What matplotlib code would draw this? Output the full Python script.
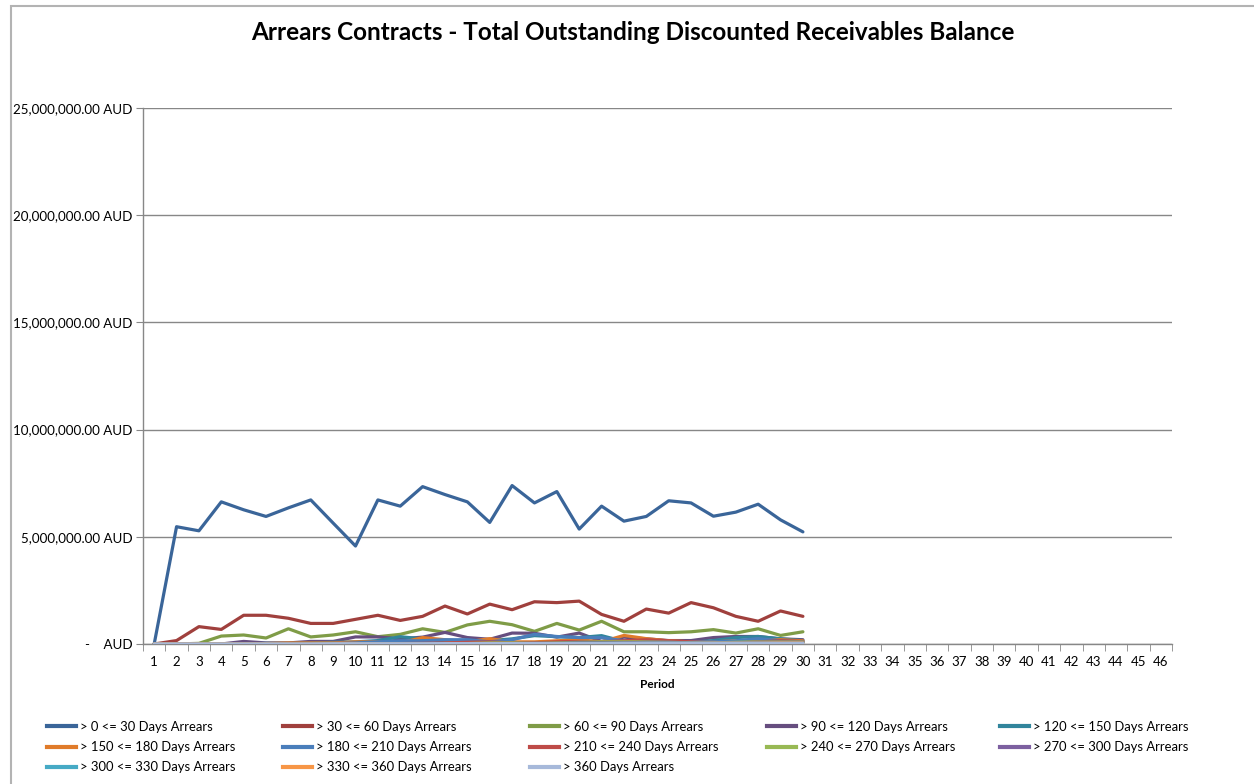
import matplotlib
matplotlib.use("Agg")
import matplotlib.pyplot as plt
from matplotlib.lines import Line2D
from matplotlib.patches import Rectangle
from matplotlib.ticker import FuncFormatter, FixedLocator, MultipleLocator

periods = list(range(1, 47))
n_data = 30

series_names = [
    "> 0 <= 30 Days Arrears", "> 30 <= 60 Days Arrears", "> 60 <= 90 Days Arrears",
    "> 90 <= 120 Days Arrears", "> 120 <= 150 Days Arrears", "> 150 <= 180 Days Arrears",
    "> 180 <= 210 Days Arrears", "> 210 <= 240 Days Arrears", "> 240 <= 270 Days Arrears",
    "> 270 <= 300 Days Arrears", "> 300 <= 330 Days Arrears", "> 330 <= 360 Days Arrears",
    "> 360 Days Arrears",
]

# values in millions AUD, periods 1..30
s0_30 = [0, 5.47, 5.28, 6.63, 6.26, 5.95, 6.35, 6.72, 5.64, 4.57, 6.72, 6.43, 7.34, 6.97, 6.63,
         5.67, 7.39, 6.58, 7.11, 5.36, 6.43, 5.73, 5.95, 6.68, 6.58, 5.96, 6.15, 6.52, 5.79, 5.23]
s30_60 = [0, 0.16, 0.81, 0.68, 1.34, 1.34, 1.20, 0.96, 0.96, 1.15, 1.34, 1.10, 1.29, 1.77, 1.40,
          1.86, 1.60, 1.97, 1.93, 2.00, 1.38, 1.06, 1.63, 1.44, 1.93, 1.69, 1.29, 1.06, 1.54, 1.29]
s60_90 = [0, 0, 0.03, 0.37, 0.42, 0.28, 0.71, 0.33, 0.42, 0.57, 0.34, 0.45, 0.71, 0.54, 0.89,
          1.06, 0.90, 0.59, 0.96, 0.65, 1.06, 0.57, 0.57, 0.53, 0.57, 0.67, 0.51, 0.71, 0.40, 0.57]
s90_120 = [0, 0, 0, 0, 0.12, 0.05, 0.05, 0.12, 0.12, 0.33, 0.33, 0.24, 0.32, 0.54, 0.30,
           0.22, 0.51, 0.50, 0.32, 0.51, 0.12, 0.32, 0.24, 0.16, 0.16, 0.30, 0.35, 0.35, 0.24, 0.20]
s120_150 = [0, 0, 0, 0, 0, 0.03, 0.03, 0.05, 0.08, 0.10, 0.16, 0.34, 0.24, 0.12, 0.12,
            0.16, 0.24, 0.39, 0.34, 0.30, 0.39, 0.12, 0.12, 0.10, 0.08, 0.16, 0.30, 0.35, 0.24, 0.16]
s150_180 = [0, 0, 0, 0, 0, 0.02, 0.05, 0.05, 0.05, 0.10, 0.10, 0.05, 0.30, 0.20, 0.10,
            0.25, 0.10, 0.10, 0.15, 0.20, 0.10, 0.40, 0.25, 0.15, 0.10, 0.10, 0.15, 0.15, 0.20, 0.15]
s180_210 = [0, 0, 0, 0, 0, 0, 0, 0, 0.02, 0.05, 0.10, 0.15, 0.15, 0.20, 0.20,
            0.10, 0.20, 0.45, 0.35, 0.30, 0.30, 0.15, 0.10, 0.10, 0.10, 0.10, 0.15, 0.25, 0.15, 0.10]
s210_240 = [0, 0, 0, 0, 0, 0, 0, 0, 0, 0, 0, 0.02, 0.03, 0.05, 0.08,
            0.10, 0.05, 0.05, 0.10, 0.12, 0.10, 0.15, 0.20, 0.15, 0.10, 0.05, 0.05, 0.10, 0.15, 0.12]
s240_270 = [0, 0, 0, 0, 0, 0, 0, 0, 0, 0, 0, 0, 0.01, 0.02, 0.02,
            0.05, 0.05, 0.03, 0.05, 0.08, 0.10, 0.10, 0.10, 0.08, 0.05, 0.05, 0.08, 0.10, 0.10, 0.10]
s270_300 = [0, 0, 0, 0, 0, 0, 0, 0, 0, 0, 0, 0, 0, 0, 0.01,
            0.02, 0.02, 0.03, 0.03, 0.05, 0.05, 0.05, 0.08, 0.08, 0.05, 0.05, 0.05, 0.08, 0.08, 0.08]
s300_330 = [0, 0, 0, 0, 0, 0, 0, 0, 0, 0, 0, 0, 0, 0, 0,
            0, 0.01, 0.02, 0.02, 0.03, 0.03, 0.03, 0.05, 0.05, 0.05, 0.05, 0.05, 0.05, 0.06, 0.06]
s330_360 = [0, 0, 0, 0, 0, 0, 0, 0, 0, 0, 0, 0, 0, 0, 0,
            0, 0, 0, 0.01, 0.02, 0.02, 0.02, 0.03, 0.03, 0.03, 0.04, 0.04, 0.04, 0.05, 0.05]
s360 = [0, 0, 0, 0, 0, 0, 0, 0, 0.01, 0.01, 0.01, 0.01, 0.01, 0.02, 0.02,
        0.02, 0.02, 0.02, 0.02, 0.02, 0.02, 0.03, 0.03, 0.03, 0.03, 0.03, 0.03, 0.03, 0.03, 0.03]

all_series = [s0_30, s30_60, s60_90, s90_120, s120_150, s150_180, s180_210,
              s210_240, s240_270, s270_300, s300_330, s330_360, s360]

colors = ["#3A6599", "#A0403D", "#7F9C47", "#664E7F", "#31859C", "#E07B2A",
          "#4A7EBB", "#BE4B48", "#98B954", "#7D60A0", "#46AAC5", "#F79646", "#A7B9DA"]

FONT = "Lato"
W, H = 1254, 784
fig = plt.figure(figsize=(W / 100, H / 100), dpi=100)
ax = fig.add_axes([143 / W, 1 - 644 / H, (1172 - 143) / W, (644 - 108) / H])

grid_c = "#878787"
xs = periods[:n_data]
for vals, c in zip(all_series, colors):
    ax.plot(xs, [v * 1e6 for v in vals], color=c, lw=2.3, solid_joinstyle="round",
            solid_capstyle="round", zorder=3)

ax.set_xlim(0.5, 46.5)
ax.set_ylim(0, 25e6)
ax.yaxis.set_major_locator(MultipleLocator(5e6))
ax.grid(axis="y", color=grid_c, lw=1.0, zorder=1)
ax.set_axisbelow(True)


def fmt(v, pos):
    if abs(v) < 1:
        return "-    AUD"
    return f"{v:,.2f} AUD"


ax.yaxis.set_major_formatter(FuncFormatter(fmt))
ax.xaxis.set_major_locator(FixedLocator(periods))
ax.set_xticklabels([str(p) for p in periods])
ax.xaxis.set_minor_locator(FixedLocator([p + 0.5 for p in range(0, 47)]))
ax.tick_params(axis="x", which="major", length=0, pad=9, labelsize=9.5, labelcolor="black")
ax.tick_params(axis="x", which="minor", length=5, color=grid_c, direction="out")
ax.tick_params(axis="y", which="major", length=5, color=grid_c, direction="out",
               pad=2.5, labelsize=9.6)
for lbl in ax.get_xticklabels() + ax.get_yticklabels():
    lbl.set_fontfamily(FONT)

for s in ["top", "right"]:
    ax.spines[s].set_visible(False)
for s in ["left", "bottom"]:
    ax.spines[s].set_color(grid_c)
    ax.spines[s].set_linewidth(1.0)

ax.set_xlabel("Period", fontfamily=FONT, fontweight="bold", fontsize=8.5, labelpad=7.5)

fig.text(633 / W, 1 - 32 / H,
         "Arrears Contracts - Total Outstanding Discounted Receivables Balance",
         ha="center", va="center", fontfamily=FONT, fontweight="bold", fontsize=17.5)

# legend: five columns placed at fixed positions
col_x = [47, 283, 530, 767, 1000]
handles = [Line2D([], [], color=c, lw=3) for c in colors]
for ci, x0 in enumerate(col_x):
    idx = [i for i in range(ci, len(series_names), 5)]
    leg = fig.legend([handles[i] for i in idx], [series_names[i] for i in idx],
                     loc="upper left", bbox_to_anchor=(x0 / W, 1 - 721 / H),
                     bbox_transform=fig.transFigure, frameon=False, borderpad=0,
                     borderaxespad=0, handlelength=2.2, handletextpad=0.3,
                     labelspacing=0.62, prop={"family": FONT, "size": 9.4})

# outer chart border (left/top visible)
fig.patches.append(Rectangle((11 / W, -0.05), 1.2, 1 - 6 / H + 0.05,
                             transform=fig.transFigure, fill=False,
                             edgecolor="#B3B3B3", lw=1.5))

fig.savefig("out.png", dpi=100)
